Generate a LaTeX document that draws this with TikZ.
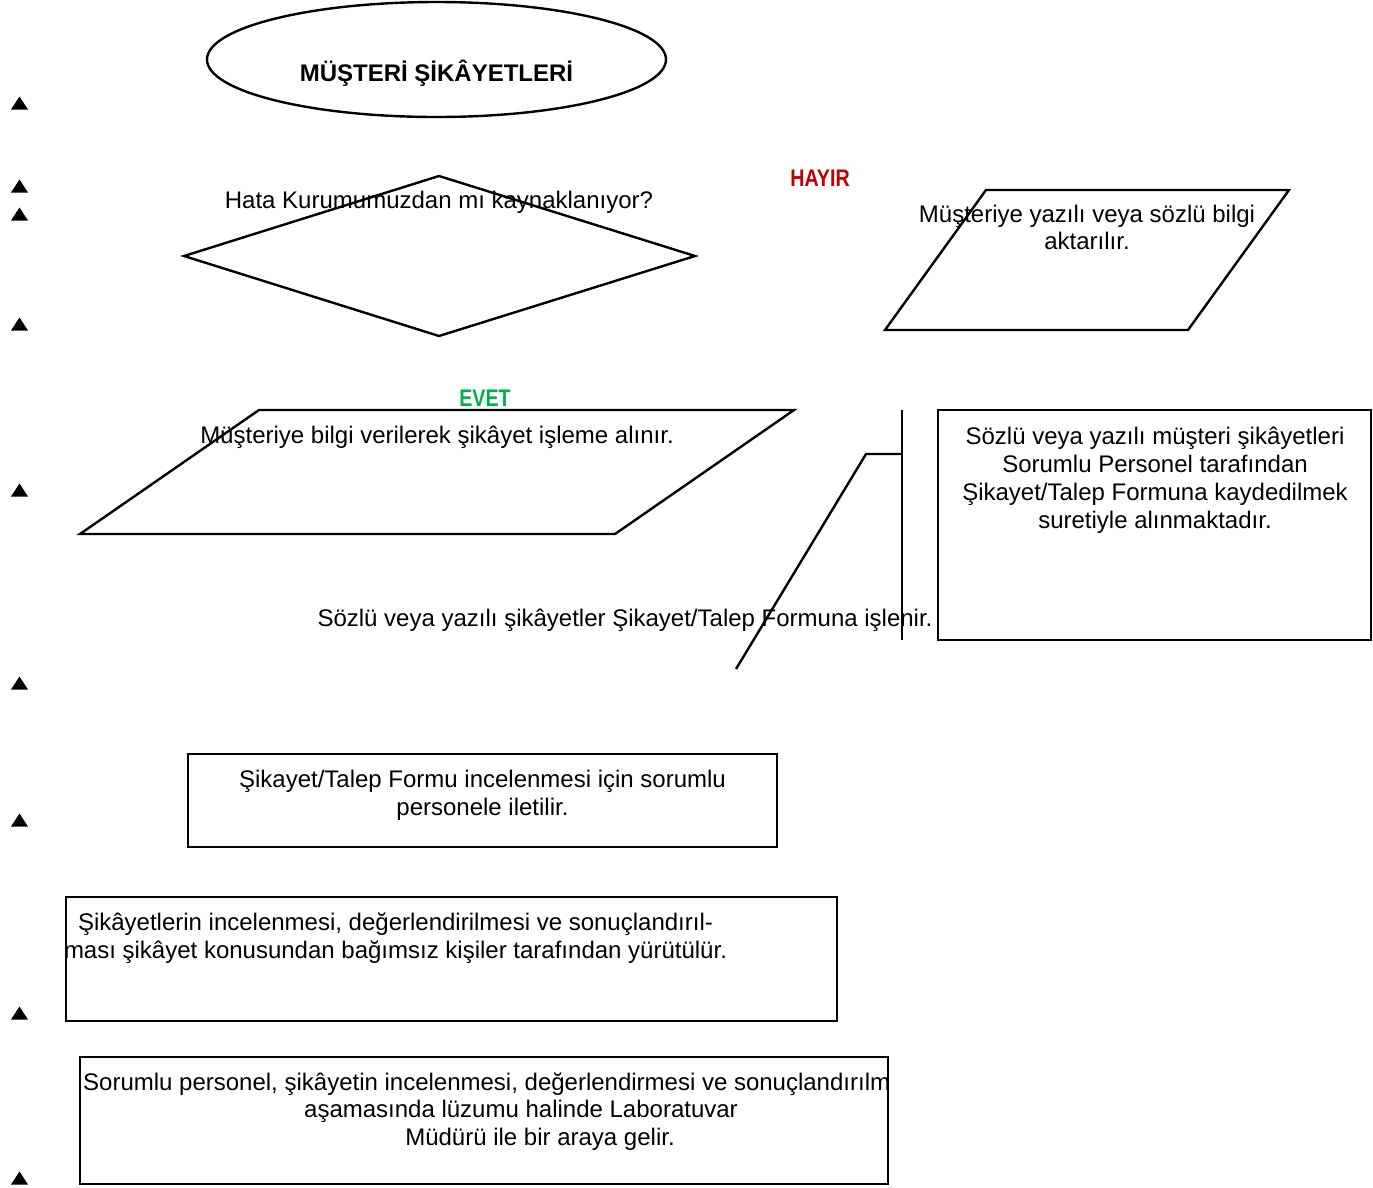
\documentclass[tikz,border=0pt]{standalone}
\usepackage{fontspec}
\setmainfont{Liberation Sans}
\newfontfamily\narrowbold[FakeStretch=0.82]{Liberation Sans}
\definecolor{hayirred}{RGB}{192,0,0}
\definecolor{evetgreen}{RGB}{0,176,80}
\begin{document}
\begin{tikzpicture}[x=1pt,y=-1pt,
  txt/.style={font=\fontsize{24}{28}\selectfont, inner sep=0pt, anchor=base},
  shp/.style={draw=black, line width=2.4pt, line join=miter},
  tri/.style={fill=black}]
\useasboundingbox (0,0) rectangle (1373,1187);
\fill[white] (0,0) rectangle (1373,1187);

% left side triangles
\foreach \b in {109.5,192.5,220.5,330.5,496.5,689.5,826.5,1019.5,1184.5}{
  \fill[tri] (11,\b) -- (28,\b) -- (19.5,\b-13) -- cycle;
}

% start ellipse
\draw[shp] (436.5,59.5) ellipse [x radius=229.5, y radius=57.5];
\node[txt, font=\fontsize{24}{28}\selectfont\bfseries] (title) at (436.5,81) {MÜŞTERİ ŞİKÂYETLERİ};

% decision diamond
\coordinate (dT) at (439,176);
\coordinate (dL) at (184,256);
\coordinate (dB) at (439,336);
\coordinate (dR) at (695,256);
\draw[shp] (dT) -- (dR) -- (dB) -- (dL) -- cycle;
\node[txt] (q) at (439,208) {Hata Kurumumuzdan mı kaynaklanıyor?};

% labels
\node[txt, font=\fontsize{24}{28}\narrowbold\bfseries, text=hayirred] (hayir) at (820,186) {HAYIR};
\node[txt, font=\fontsize{24}{28}\narrowbold\bfseries, text=evetgreen] (evet) at (485,406) {EVET};

% right parallelogram
\draw[shp] (986,190) -- (1289,190) -- (1188,330) -- (885,330) -- cycle;
\node[txt, font=\fontsize{24}{27.5}\selectfont] (info) at (1087,222)
  {\begin{tabular}[t]{@{}c@{}}Müşteriye yazılı veya sözlü bilgi\\aktarılır.\end{tabular}};

% big parallelogram
\draw[shp] (259,410) -- (794,410) -- (615,534) -- (80,534) -- cycle;
\node[txt] (accept) at (437,443) {Müşteriye bilgi verilerek şikâyet işleme alınır.};

% record text and lines
\node[txt] (record) at (625,626) {Sözlü veya yazılı şikâyetler Şikayet/Talep Formuna işlenir.};
\coordinate (lA) at (736,669);
\coordinate (lB) at (866,454);
\coordinate (lC) at (902,454);
\coordinate (vT) at (902,410);
\coordinate (vB) at (902,640);
\draw[shp] (lA) -- (lB) -- (lC);
\draw[shp] (vT) -- (vB);

% right note box
\draw[shp] (938,410) rectangle (1371,640);
\node[txt] (note) at (1155,444)
  {\begin{tabular}[t]{@{}c@{}}Sözlü veya yazılı müşteri şikâyetleri\\Sorumlu Personel tarafından\\Şikayet/Talep Formuna kaydedilmek\\suretiyle alınmaktadır.\end{tabular}};

% forward box
\draw[shp] (188,754) rectangle (777,847);
\node[txt] (fwd) at (482.5,787)
  {\begin{tabular}[t]{@{}c@{}}Şikayet/Talep Formu incelenmesi için sorumlu\\personele iletilir.\end{tabular}};

% independence box
\draw[shp] (66,897) rectangle (837,1021);
\node[txt] (indep) at (395.5,930)
  {\begin{tabular}[t]{@{}c@{}}Şikâyetlerin incelenmesi, değerlendirilmesi ve sonuçlandırıl-\\ması şikâyet konusundan bağımsız kişiler tarafından yürütülür.\end{tabular}};

% meeting box
\draw[shp] (80,1057) rectangle (888,1184);
\node[txt, anchor=base west] (meet1) at (83,1090) {Sorumlu personel, şikâyetin incelenmesi, değerlendirmesi ve sonuçlandırılm};
\node[txt] (meet2) at (521,1117) {aşamasında lüzumu halinde Laboratuvar};
\node[txt] (meet3) at (540,1145) {Müdürü ile bir araya gelir.};
\end{tikzpicture}
\end{document}
